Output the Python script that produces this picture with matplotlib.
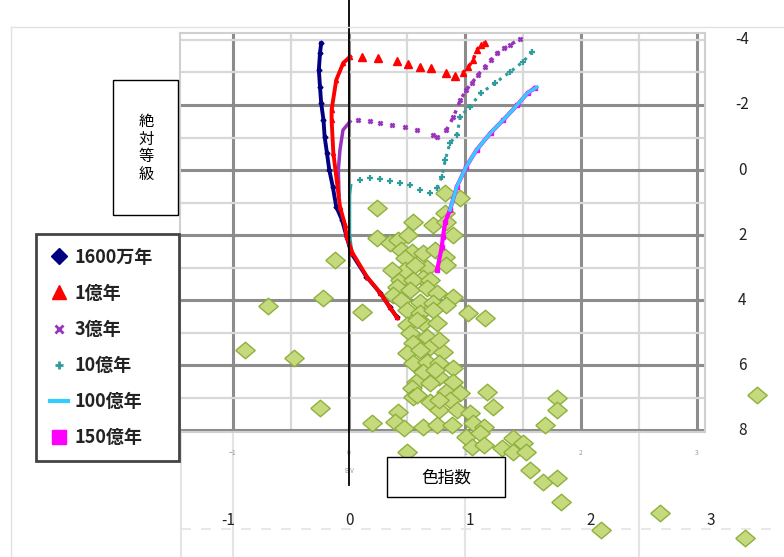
import matplotlib.pyplot as plt
from matplotlib.lines import Line2D
from matplotlib.patches import Rectangle

plt.rcParams["font.family"] = ["Noto Sans CJK JP", "DejaVu Sans"]

# isochrones (B-V, absolute magnitude)
bv_16m = [0.41, 0.35, 0.27, 0.15, 0.02, -0.02, -0.06, -0.11, -0.14, -0.17, -0.19,
          -0.21, -0.22, -0.24, -0.25, -0.26, -0.25, -0.24]
mv_16m = [4.51, 4.21, 3.79, 3.28, 2.56, 2.06, 1.54, 1.13, 0.51, 0.00, -0.52,
          -1.02, -1.54, -2.06, -2.56, -3.08, -3.60, -3.90]

bv_100m_ms = [0.41, 0.35, 0.27, 0.155, 0.03, -0.02, -0.034, -0.078, -0.106, -0.135,
              -0.15, -0.15, -0.11, -0.05, 0.01]
mv_100m_ms = [4.52, 4.22, 3.78, 3.29, 2.55, 2.06, 1.69, 1.13, 0.31, -0.52,
              -1.54, -1.85, -2.77, -3.29, -3.49]
bv_100m_hook = [0.11, 0.25, 0.41, 0.51, 0.61, 0.71, 0.84, 0.91]
mv_100m_hook = [-3.49, -3.45, -3.35, -3.26, -3.18, -3.14, -2.99, -2.89]
bv_100m_giant = [0.98, 1.03, 1.07, 1.10, 1.14, 1.17]
mv_100m_giant = [-2.98, -3.18, -3.38, -3.69, -3.85, -3.92]

bv_300m_ms = [-0.086, -0.092, -0.078, -0.052, 0.009]
mv_300m_ms = [0.77, 0.00, -0.62, -1.23, -1.49]
bv_300m_hook = [0.078, 0.18, 0.27, 0.37, 0.48, 0.59, 0.72, 0.76]
mv_300m_hook = [-1.54, -1.52, -1.46, -1.38, -1.33, -1.23, -1.08, -1.02]
bv_300m_giant = [0.84, 0.90, 0.96, 1.01, 1.06, 1.11, 1.17, 1.22, 1.28, 1.34, 1.39, 1.47]
mv_300m_giant = [-1.23, -1.63, -2.15, -2.46, -2.68, -2.92, -3.18, -3.38, -3.60, -3.75,
                 -3.85, -4.03]

bv_1g_ms = [0.03, 0.01, 0.01, 0.01, 0.02]
mv_1g_ms = [2.55, 2.00, 1.32, 0.77, 0.46]
bv_1g_hook = [0.095, 0.18, 0.27, 0.35, 0.44, 0.53, 0.61, 0.70]
mv_1g_hook = [0.31, 0.25, 0.28, 0.34, 0.40, 0.46, 0.62, 0.71]
bv_1g_giant = [0.76, 0.80, 0.83, 0.87, 0.93, 0.96, 1.04, 1.14, 1.26, 1.39, 1.50, 1.58]
mv_1g_giant = [0.55, 0.21, -0.31, -0.83, -1.08, -1.64, -1.95, -2.37, -2.68, -3.02,
               -3.33, -3.64]

bv_10g = [0.87, 0.93, 1.01, 1.10, 1.22, 1.33, 1.45, 1.54, 1.62]
mv_10g = [1.23, 0.51, -0.10, -0.62, -1.14, -1.54, -2.00, -2.37, -2.55]

bv_15g = [0.76, 0.80, 0.81, 0.83, 0.87, 0.93, 1.01, 1.10, 1.22, 1.33, 1.45, 1.54, 1.60]
mv_15g = [3.08, 2.36, 2.05, 1.60, 1.23, 0.51, -0.10, -0.62, -1.14, -1.54, -2.00,
          -2.37, -2.52]

# observed stars
bv_stars = [0.83, 0.96, 0.24, 0.83, 0.55, 0.72, 0.84, 0.90, 0.24, 0.35, 0.42, 0.51,
            0.45, 0.54, 0.64, 0.74, 0.83, 0.48, -0.12, 0.84, 0.67, 0.64, 0.44, 0.55,
            0.70, 0.41, 0.53, 0.67, 0.76, 0.90, -0.22, 0.38, 0.45, 0.61, 0.72, 0.84,
            0.11, 0.50, 0.61, 0.72, 1.03, 1.17, 0.50, 0.64, 0.76, 0.53, 0.67, 0.55,
            0.70, 0.81, -0.47, 0.50, 0.55, 0.67, 0.78, 0.90, 0.64, 0.78, 0.58, 0.70,
            0.90, 0.54, 0.84, 0.96, 1.19, 0.55, 0.70, 0.87, -0.25, 1.24, 1.79, 1.79,
            0.42, 0.78, 0.93, 1.04, 0.20, 0.40, 0.47, 0.64, 0.76, 0.89, 1.07, 1.16,
            1.69, 1.01, 1.13, 1.06, 1.16, 1.41, 1.50, 1.32, 1.41, 1.53, 0.50, 1.56,
            1.67, 1.79, 1.83, 2.17, 2.68, 3.41, 3.52, -0.90, -0.70, 0.59, 0.78, 0.61,
            0.74, 0.59, 0.78, 0.48, 0.57, 0.37]
mv_stars = [0.71, 0.86, 1.17, 1.32, 1.59, 1.69, 1.59, 2.00, 2.09, 2.25, 2.15, 2.00,
            2.46, 2.51, 2.55, 2.46, 2.67, 2.71, 2.77, 2.92, 3.02, 3.32, 3.38, 3.38,
            3.38, 3.59, 3.69, 3.63, 3.78, 3.90, 3.94, 3.85, 4.00, 4.05, 4.09, 4.15,
            4.36, 4.31, 4.40, 4.31, 4.40, 4.55, 4.77, 4.71, 4.71, 5.02, 5.13, 5.32,
            5.44, 5.59, 5.78, 5.63, 5.94, 5.90, 5.94, 6.09, 6.21, 6.36, 6.51, 6.55,
            6.51, 6.71, 6.82, 6.86, 6.82, 6.98, 7.13, 7.08, 7.32, 7.28, 7.02, 7.38,
            7.44, 7.38, 7.38, 7.48, 7.78, 7.74, 7.94, 7.90, 7.85, 7.85, 7.78, 7.90,
            7.85, 8.21, 8.09, 8.51, 8.46, 8.25, 8.40, 8.55, 8.67, 8.67, 8.67, 9.23,
            9.60, 9.48, 10.22, 11.08, 10.55, 11.32, 6.92, 5.54, 4.18, 4.62, 5.23, 5.54,
            6.15, 6.92, 7.08, 3.08, 2.92, 3.08]

bv_ticks = [-1, 0, 1, 2, 3]
mv_ticks = [-4, -2, 0, 2, 4, 6, 8]
ages = ["1600万年", "1億年", "3億年", "10億年", "100億年", "150億年"]

navy, red, purple, teal, cyan, magenta = "#000080", "#ff0000", "#9933bb", "#2e9c9c", "#33ccff", "#ff00ff"
# slightly flattened diamond for the stars
star_marker = [(-1, 0), (0, 0.85), (1, 0), (0, -0.85), (-1, 0)]

fig = plt.figure(figsize=(7.84, 5.57), dpi=100)

# faint frame of the surrounding sheet
fig.add_artist(Line2D([11 / 784, 11 / 784], [0, 1 - 27 / 557], transform=fig.transFigure,
                      color="#e2e2e2", lw=1))
fig.add_artist(Line2D([11 / 784, 1], [1 - 27 / 557, 1 - 27 / 557], transform=fig.transFigure,
                      color="#e2e2e2", lw=1))

ax = fig.add_axes([180 / 784, 1 - 432 / 557, 525 / 784, 399 / 557])
ax.set_xlim(-1.457, 3.069)
ax.set_ylim(8.06, -4.215)

ax.set_xticks(bv_ticks)
ax.set_xticks([-0.5, 0.5, 1.5, 2.5], minor=True)
ax.set_yticks(mv_ticks[1:])
ax.set_yticks([-4, -3, -1, 1, 3, 5, 7], minor=True)
ax.tick_params(which="both", length=0, labelleft=False)
ax.tick_params(axis="x", labelsize=5, labelcolor="#999999", pad=12)
ax.grid(which="major", color="#8c8c8c", lw=2.2)
ax.grid(which="minor", color="#d8d8d8", lw=1.6)
ax.set_axisbelow(True)
for s in ax.spines.values():
    s.set_color("#d0d0d0")
    s.set_linewidth(1.5)
ax.text(0, 9.25, "B-V", fontsize=4.5, color="#999999", ha="center", va="center")

# grid of the sheet behind, continuing below the plot
ax.vlines([-1.45, -1, 1, 2.5], 8.06, 12.0, color="#e4e4e4", lw=1.5, clip_on=False, zorder=0)
ax.hlines(11.05, -1.45, 3.7, color="#e4e4e4", lw=1.2, ls=(0, (6, 6)), clip_on=False, zorder=0)

# stars
ax.plot(bv_stars, mv_stars, ls="none", marker=star_marker, ms=14, mfc="#c4da7c",
        mec="#8fb03e", mew=1.0, clip_on=False, zorder=3)

# isochrones
ax.plot(bv_15g, mv_15g, color=magenta, lw=3, marker="s", ms=3, zorder=4)
ax.plot(bv_10g, mv_10g, color=cyan, lw=2.5, zorder=4)
ax.plot(bv_1g_ms, mv_1g_ms, color=teal, lw=1.5, zorder=4)
ax.plot(bv_1g_hook, mv_1g_hook, ls="none", marker="+", ms=4, mew=1.6, color=teal, zorder=4)
ax.plot(bv_1g_giant, mv_1g_giant, ls=":", lw=2.2, marker="+", ms=4, mew=1.6, color=teal, zorder=4)
ax.plot(bv_300m_ms, mv_300m_ms, color=purple, lw=2.5, zorder=4)
ax.plot(bv_300m_hook, mv_300m_hook, ls="none", marker="x", ms=3.5, mew=1.8, color=purple, zorder=4)
ax.plot(bv_300m_giant, mv_300m_giant, ls=":", lw=2.5, marker="x", ms=3.5, mew=1.8, color=purple, zorder=4)
ax.plot(bv_16m, mv_16m, color=navy, lw=2.8, marker="D", ms=2.5, zorder=5)
ax.plot(bv_100m_ms, mv_100m_ms, color=red, lw=2.8, marker="^", ms=3, zorder=5)
ax.plot(bv_100m_hook, mv_100m_hook, ls="none", marker="^", ms=5.5, color=red, zorder=5)
ax.plot(bv_100m_giant, mv_100m_giant, ls=":", lw=2.5, marker="^", ms=4, color=red, zorder=5)

# B-V = 0 line
ax.plot([0, 0], [-5.3, 9.7], color="black", lw=1.3, clip_on=False, zorder=6)

# outer scale labels
for m in mv_ticks:
    ax.text(3.39, m, str(m), fontsize=11, ha="center", va="center", color="#222222",
            clip_on=False)
for b in bv_ticks:
    ax.text(b + 0.04 * b, 10.78, str(b), fontsize=11, ha="center", va="center",
            color="#222222", clip_on=False)

# axis name boxes
fig.add_artist(Rectangle((113 / 784, 1 - 215 / 557), 65 / 784, 135 / 557,
                         transform=fig.transFigure, fc="white", ec="black", lw=1))
fig.text(146 / 784, 1 - 148 / 557, "絶\n対\n等\n級", fontsize=11, ha="center",
         va="center", linespacing=1.05)
fig.add_artist(Rectangle((387 / 784, 1 - 497 / 557), 118 / 784, 40 / 557,
                         transform=fig.transFigure, fc="white", ec="black", lw=1, zorder=7))
fig.text(446 / 784, 1 - 478 / 557, "色指数", fontsize=12, ha="center", va="center", zorder=8)

handles = [
    Line2D([], [], ls="none", marker="D", ms=8, color=navy),
    Line2D([], [], ls="none", marker="^", ms=10, color=red),
    Line2D([], [], ls="none", marker="x", ms=6, mew=2, color=purple),
    Line2D([], [], ls="none", marker="+", ms=6, mew=2, color=teal),
    Line2D([], [], lw=3, color=cyan),
    Line2D([], [], ls="none", marker="s", ms=10, color=magenta),
]
leg = fig.legend(handles, ages, loc="upper left", mode="expand",
                 bbox_to_anchor=(27 / 784, 1 - 437 / 557, 161 / 784, 212 / 557),
                 bbox_transform=fig.transFigure, handlelength=1.0,
                 handletextpad=0.4, labelspacing=0.95, borderpad=0.75, fancybox=False,
                 framealpha=1, edgecolor="#444444", prop={"weight": "bold", "size": 13})
leg.get_frame().set_linewidth(2)
for t in leg.get_texts():
    t.set_color("#222222")

fig.savefig("out.png", dpi=100)
